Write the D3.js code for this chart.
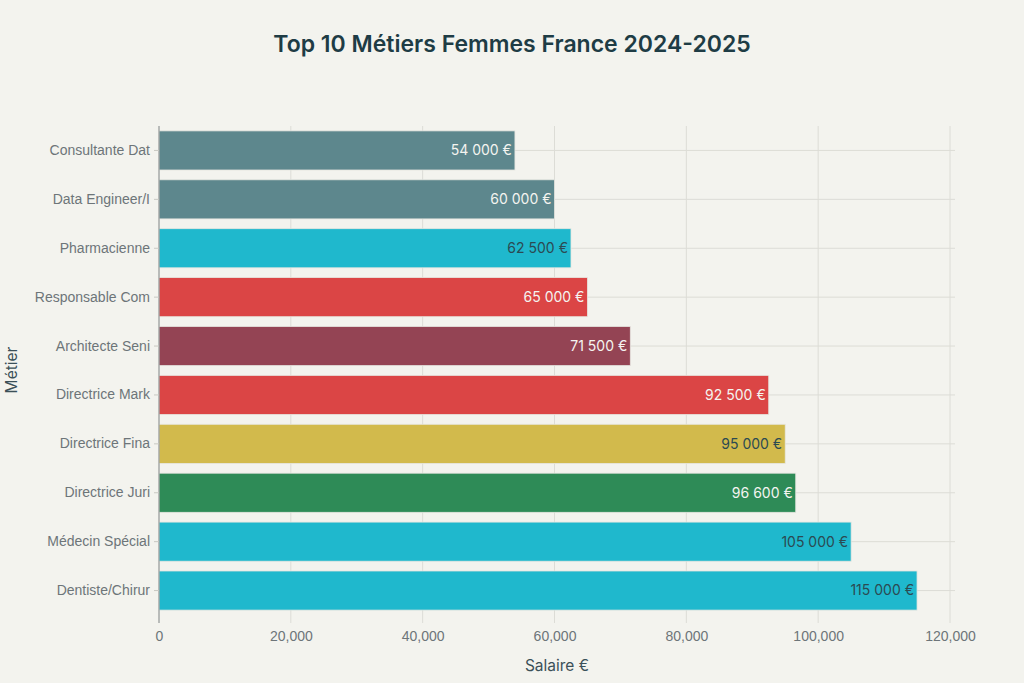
<!DOCTYPE html>
<meta charset="utf-8">
<style>
body { margin: 0; background: #f3f3ee; font-family: Inter, "Open Sans", sans-serif; }
.grid line { stroke: #dcdcd6; }
.axis text { fill: #6d7579; font-size: 14px; }
</style>
<body>
<svg width="1024" height="683"></svg>
<script src="https://d3js.org/d3.v7.min.js"></script>
<script>
// bars top to bottom
var jobs = ["Consultante Dat", "Data Engineer/I", "Pharmacienne", "Responsable Com", "Architecte Seni",
    "Directrice Mark", "Directrice Fina", "Directrice Juri", "Médecin Spécial", "Dentiste/Chirur"]
var salaries = [54000, 60000, 62500, 65000, 71500, 92500, 95000, 96600, 105000, 115000]
var colors = ["#5d878d", "#5d878d", "#1fb8cd", "#db4545", "#944454", "#db4545", "#d2ba4c", "#2e8b57", "#1fb8cd", "#1fb8cd"]
var xTicks = [0, 20000, 40000, 60000, 80000, 100000, 120000]

var svg = d3.select("svg")
var pLeft = 159, pRight = 955, pTop = 126, pBottom = 615

var x = d3.scaleLinear().domain([0, 120000]).range([pLeft, pLeft + 791])
var y = d3.scaleBand().domain(jobs).range([pTop, pBottom]).paddingInner(0.2).paddingOuter(0.1)

svg.append("text").attr("x", 512).attr("y", 52).attr("text-anchor", "middle")
    .attr("font-size", 23).attr("font-weight", 600).attr("fill", "#1e3c45")
    .text("Top 10 Métiers Femmes France 2024-2025")

// grid
svg.append("g").attr("class", "grid").selectAll("line").data(xTicks).join("line")
    .attr("x1", d => x(d)).attr("x2", d => x(d)).attr("y1", pTop).attr("y2", pBottom + 8)
svg.append("g").attr("class", "grid").selectAll("line").data(jobs).join("line")
    .attr("x1", pLeft).attr("x2", pRight)
    .attr("y1", d => y(d) + y.bandwidth() / 2).attr("y2", d => y(d) + y.bandwidth() / 2)

svg.selectAll(".bar").data(jobs).join("rect").attr("class", "bar")
    .attr("x", x(0)).attr("y", d => y(d))
    .attr("width", (d, i) => x(salaries[i]) - x(0)).attr("height", y.bandwidth())
    .attr("fill", (d, i) => colors[i]).attr("stroke", "#e6e6e0").attr("stroke-width", 0.8)

var darkText = ["#1fb8cd", "#d2ba4c"]
svg.selectAll(".val").data(jobs).join("text").attr("class", "val")
    .attr("x", (d, i) => x(salaries[i]) - 3).attr("y", d => y(d) + y.bandwidth() / 2)
    .attr("dy", "0.35em").attr("text-anchor", "end").attr("font-size", 14)
    .attr("fill", (d, i) => darkText.includes(colors[i]) ? "#2c4a52" : "#f4f4f0")
    .text((d, i) => d3.format(",")(salaries[i]).replace(/,/g, " ") + " €")

var xa = svg.append("g").attr("class", "axis").attr("transform", "translate(0," + pBottom + ")")
    .call(d3.axisBottom(x).tickValues(xTicks).tickFormat(d3.format(",")).tickSize(0).tickPadding(16))
xa.select(".domain").remove()

var ya = svg.append("g").attr("class", "axis").attr("transform", "translate(" + pLeft + ",0)")
    .call(d3.axisLeft(y).tickSize(5).tickPadding(4))
ya.select(".domain").attr("stroke", "#8a8f90").attr("d", "M0," + pTop + "V" + (pBottom + 8))
ya.selectAll(".tick line").attr("stroke", "#c8c8c2")

svg.append("text").attr("x", 557).attr("y", 671).attr("text-anchor", "middle")
    .attr("font-size", 15.5).attr("fill", "#3b5058").text("Salaire €")
svg.append("text").attr("transform", "translate(17,370) rotate(-90)").attr("text-anchor", "middle")
    .attr("font-size", 15.5).attr("fill", "#3b5058").text("Métier")
</script>
</body>
